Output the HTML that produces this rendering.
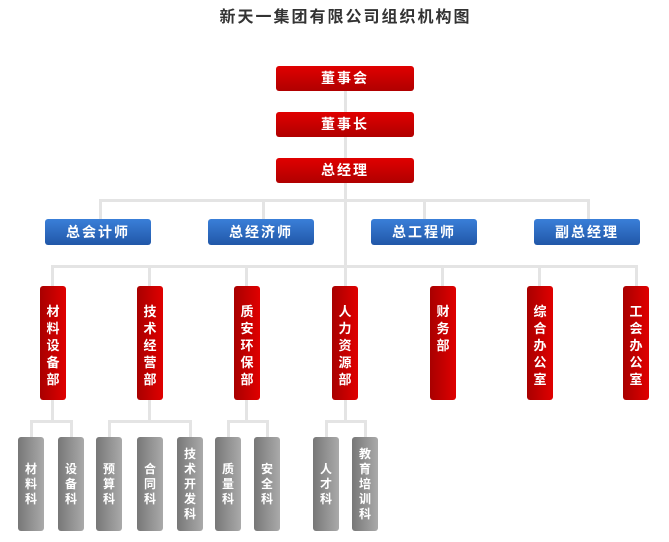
<!DOCTYPE html>
<html><head><meta charset="utf-8"><style>
body{margin:0;width:669px;height:542px;background:#fff;position:relative;overflow:hidden;font-family:"Liberation Sans","Noto Sans CJK SC",sans-serif}
.t{position:absolute;left:0;top:3px;width:669px;padding-left:22px;box-sizing:border-box;text-align:center;font-size:16px;letter-spacing:2px;color:#333;font-weight:bold}
.l{position:absolute;background:#e4e4e4}
.r,.b{position:absolute;color:#fff;font-weight:bold;font-size:14px;text-align:center;border-radius:3px;box-sizing:border-box;letter-spacing:2px}
.r{background:linear-gradient(#e00000,#b00000);line-height:25px;height:25px;width:138px;left:276px}
.b{background:linear-gradient(#3a7fd8,#2157a8);line-height:26px;height:26px;width:106px;top:219px}
.v{position:absolute;top:286px;width:26px;height:114px;background:linear-gradient(90deg,#a80000,#e00000);color:#fff;font-weight:bold;font-size:13px;line-height:17px;border-radius:3px;text-align:center;padding-top:17px;box-sizing:border-box}
.g{position:absolute;top:437px;width:26px;height:94px;background:linear-gradient(90deg,#777,#aaa);color:#fff;font-weight:bold;font-size:12px;line-height:15px;border-radius:3px;text-align:center;display:flex;align-items:center;justify-content:center;box-sizing:border-box}
</style></head><body>
<div class="t">新天一集团有限公司组织机构图</div>
<div class="l" style="left:344px;top:91px;width:3px;height:195px"></div>
<div class="l" style="left:99px;top:199px;width:491px;height:3px"></div>
<div class="l" style="left:99px;top:199px;width:3px;height:20px"></div>
<div class="l" style="left:262px;top:199px;width:3px;height:20px"></div>
<div class="l" style="left:423px;top:199px;width:3px;height:20px"></div>
<div class="l" style="left:587px;top:199px;width:3px;height:20px"></div>
<div class="l" style="left:51px;top:265px;width:587px;height:3px"></div>
<div class="l" style="left:51px;top:265px;width:3px;height:21px"></div>
<div class="l" style="left:148px;top:265px;width:3px;height:21px"></div>
<div class="l" style="left:245px;top:265px;width:3px;height:21px"></div>
<div class="l" style="left:441px;top:265px;width:3px;height:21px"></div>
<div class="l" style="left:538px;top:265px;width:3px;height:21px"></div>
<div class="l" style="left:635px;top:265px;width:3px;height:21px"></div>
<div class="l" style="left:51px;top:400px;width:3px;height:21px"></div>
<div class="l" style="left:30px;top:420px;width:42px;height:3px"></div>
<div class="l" style="left:30px;top:420px;width:3px;height:17px"></div>
<div class="l" style="left:70px;top:420px;width:3px;height:17px"></div>
<div class="l" style="left:148px;top:400px;width:3px;height:21px"></div>
<div class="l" style="left:108px;top:420px;width:83px;height:3px"></div>
<div class="l" style="left:108px;top:420px;width:3px;height:17px"></div>
<div class="l" style="left:189px;top:420px;width:3px;height:17px"></div>
<div class="l" style="left:245px;top:400px;width:3px;height:21px"></div>
<div class="l" style="left:227px;top:420px;width:41px;height:3px"></div>
<div class="l" style="left:227px;top:420px;width:3px;height:17px"></div>
<div class="l" style="left:266px;top:420px;width:3px;height:17px"></div>
<div class="l" style="left:344px;top:400px;width:3px;height:21px"></div>
<div class="l" style="left:325px;top:420px;width:41px;height:3px"></div>
<div class="l" style="left:325px;top:420px;width:3px;height:17px"></div>
<div class="l" style="left:364px;top:420px;width:3px;height:17px"></div>

<div class="r" style="top:66px">董事会</div>
<div class="r" style="top:112px">董事长</div>
<div class="r" style="top:158px">总经理</div>
<div class="b" style="left:45px">总会计师</div>
<div class="b" style="left:208px">总经济师</div>
<div class="b" style="left:371px">总工程师</div>
<div class="b" style="left:534px">副总经理</div>

<div class="v" style="left:40px">材<br>料<br>设<br>备<br>部</div>
<div class="v" style="left:137px">技<br>术<br>经<br>营<br>部</div>
<div class="v" style="left:234px">质<br>安<br>环<br>保<br>部</div>
<div class="v" style="left:332px">人<br>力<br>资<br>源<br>部</div>
<div class="v" style="left:430px">财<br>务<br>部</div>
<div class="v" style="left:527px">综<br>合<br>办<br>公<br>室</div>
<div class="v" style="left:623px">工<br>会<br>办<br>公<br>室</div>

<div class="g" style="left:18px">材<br>料<br>科</div>
<div class="g" style="left:58px">设<br>备<br>科</div>
<div class="g" style="left:96px">预<br>算<br>科</div>
<div class="g" style="left:137px">合<br>同<br>科</div>
<div class="g" style="left:177px">技<br>术<br>开<br>发<br>科</div>
<div class="g" style="left:215px">质<br>量<br>科</div>
<div class="g" style="left:254px">安<br>全<br>科</div>
<div class="g" style="left:313px">人<br>才<br>科</div>
<div class="g" style="left:352px">教<br>育<br>培<br>训<br>科</div>
</body></html>
